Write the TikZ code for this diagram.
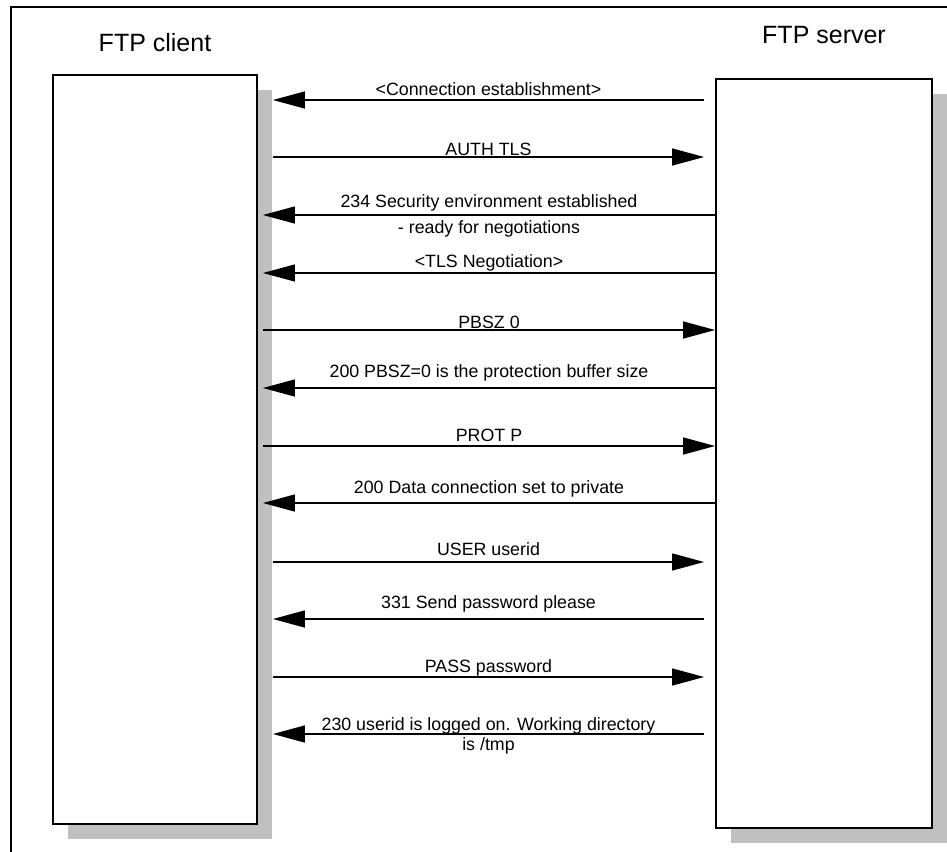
\documentclass[tikz,border=0pt]{standalone}
\usepackage{fontspec}
\setmainfont{Liberation Sans}
\definecolor{shadegray}{RGB}{192,192,192}
\usepackage{tikz}
\usetikzlibrary{arrows.meta,positioning,calc,shadows}

\begin{document}
\begin{tikzpicture}[x=0.5pt,y=-0.5pt,
      lifebox/.style={draw,fill=white,line width=0.9pt,
        drop shadow={shadow xshift=7.5pt,shadow yshift=-7.5pt,fill=shadegray,opacity=1}},
      msg/.style={line width=0.65pt,-{Triangle[length=16pt,width=8.5pt]}},
      lbl/.style={midway,anchor=base,inner sep=0pt,font=\fontsize{8.9}{10}\selectfont,align=center},
      title/.style={anchor=base,font=\fontsize{12.5}{14}\selectfont}]
   \useasboundingbox (0,0) rectangle (947,851);
   \clip (0,0) rectangle (947,851);
   \draw[line width=0.65pt] (11,7) rectangle (1000,900);
   % the two sides
   \node[lifebox,minimum width=102pt,minimum height=374.5pt] (cl) at (155,449.5) {};
   \node[lifebox,minimum width=108pt,minimum height=374.5pt] (sv) at (824,453.5) {};
   \node[title] (clt) at (155,51) {FTP client};
   \node[title] (svt) at (824,43) {FTP server};
   % messages
   \draw[msg] ([xshift=-5.5pt]sv.west |- 0,100) -- ([xshift=7.5pt]cl.east |- 0,100)
      node[lbl,yshift=2.5pt] (m1) {<Connection establishment>};
   \draw[msg] ([xshift=7.5pt]cl.east |- 0,157) -- ([xshift=-5.5pt]sv.west |- 0,157)
      node[lbl,yshift=1pt] (m2) {AUTH TLS};
   \draw[msg] (sv.west |- 0,215) -- ([xshift=2.5pt]cl.east |- 0,215)
      node[lbl,yshift=4pt] (m3) {234 Security environment established}
      node[lbl,yshift=-9pt] (m3b) {- ready for negotiations};
   \draw[msg] (sv.west |- 0,273) -- ([xshift=2.5pt]cl.east |- 0,273)
      node[lbl,yshift=3pt] (m4) {<TLS Negotiation>};
   \draw[msg] ([xshift=2.5pt]cl.east |- 0,330) -- (sv.west |- 0,330)
      node[lbl,yshift=1pt] (m5) {PBSZ 0};
   \draw[msg] (sv.west |- 0,388) -- ([xshift=2.5pt]cl.east |- 0,388)
      node[lbl,yshift=5.5pt] (m6) {200 PBSZ=0 is the protection buffer size};
   \draw[msg] ([xshift=2.5pt]cl.east |- 0,446) -- (sv.west |- 0,446)
      node[lbl,yshift=2.5pt] (m7) {PROT P};
   \draw[msg] (sv.west |- 0,503) -- ([xshift=2.5pt]cl.east |- 0,503)
      node[lbl,yshift=5pt] (m8) {200 Data connection set to private};
   \draw[msg] ([xshift=7.5pt]cl.east |- 0,562) -- ([xshift=-5.5pt]sv.west |- 0,562)
      node[lbl,yshift=3.5pt] (m9) {USER userid};
   \draw[msg] ([xshift=-5.5pt]sv.west |- 0,619) -- ([xshift=7.5pt]cl.east |- 0,619)
      node[lbl,yshift=5.5pt] (m10) {331 Send password please};
   \draw[msg] ([xshift=7.5pt]cl.east |- 0,677) -- ([xshift=-5.5pt]sv.west |- 0,677)
      node[lbl,yshift=2.5pt] (m11) {PASS password};
   \draw[msg] ([xshift=-5.5pt]sv.west |- 0,734) -- ([xshift=7.5pt]cl.east |- 0,734)
      node[lbl,yshift=-8pt] (m12) {230 userid is logged on. Working directory\\is /tmp};
\end{tikzpicture}
\end{document}
